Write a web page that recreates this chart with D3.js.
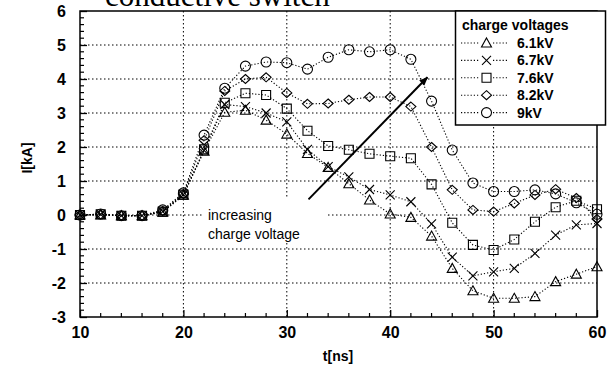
<!DOCTYPE html>
<html><head><meta charset="utf-8">
<script src="https://cdn.jsdelivr.net/npm/d3@7"></script>
<style>
html,body{margin:0;padding:0;background:#fff;}
svg{display:block;}
text{font-family:Arial,"Liberation Sans",sans-serif;}
</style></head>
<body>
<svg id="chart" width="608" height="367"></svg>
<script>
// ---- data ----
const times = [10,12,14,16,18,20,22,24,26,28,30,32,34,36,38,40,42,44,46,48,50,52,54,56,58,60];
const seriesNames = ["6.1kV","6.7kV","7.6kV","8.2kV","9kV"];
const v61 = [0,0,-0.02,-0.02,0.08,0.58,1.88,3.02,3.08,2.79,2.38,1.81,1.4,0.92,0.44,0.03,-0.07,-0.62,-1.57,-2.23,-2.45,-2.45,-2.4,-1.96,-1.74,-1.52];
const v67 = [0,0.02,-0.02,-0.02,0.1,0.6,1.9,3.25,3.19,3.0,2.74,1.93,1.42,1.12,0.75,0.59,0.39,-0.26,-1.24,-1.79,-1.67,-1.57,-1.13,-0.59,-0.29,-0.25];
const v76 = [0,0.02,-0.02,-0.02,0.1,0.6,1.93,3.3,3.58,3.53,3.13,2.48,2.03,1.92,1.8,1.73,1.67,0.9,-0.23,-0.88,-1.03,-0.72,-0.2,0.23,0.42,0.17];
const v82 = [0,0.02,-0.02,-0.02,0.12,0.62,2.2,3.65,4.0,4.05,3.59,3.27,3.28,3.39,3.47,3.47,3.19,2.0,0.74,0.15,0.1,0.34,0.59,0.76,0.5,-0.12];
const v90 = [0,0.03,-0.02,-0.02,0.15,0.65,2.35,3.73,4.38,4.5,4.48,4.29,4.64,4.86,4.8,4.86,4.58,3.35,1.91,0.94,0.69,0.69,0.74,0.62,0.36,0.02];
const seriesValues = [v61, v67, v76, v82, v90];
const markers = ["triangle","x","square","diamond","circle"];
const xTicks = [10,20,30,40,50,60];
const yTicks = [-3,-2,-1,0,1,2,3,4,5,6];
const xMinor = [12,14,16,18,22,24,26,28,32,34,36,38,42,44,46,48,52,54,56,58];
const yMinor = [-2.8,-2.6,-2.4,-2.2,-1.8,-1.6,-1.4,-1.2,-0.8,-0.6,-0.4,-0.2,0.2,0.4,0.6,0.8,1.2,1.4,1.6,1.8,2.2,2.4,2.6,2.8,3.2,3.4,3.6,3.8,4.2,4.4,4.6,4.8,5.2,5.4,5.6,5.8];
const titleText = "conductive switch";
const legendTitle = "charge voltages";
const annoLines = ["increasing","charge voltage"];
const arrowFrom = [32.1, 0.46], arrowTo = [43.6, 4.05];

// ---- layout ----
const svg = d3.select("#chart");
const x = d3.scaleLinear().domain([10,60]).range([80,597]);
const y = d3.scaleLinear().domain([-3,6]).range([317,11]);

// title (partly cut off at top, as in the reference)
svg.append("text").attr("x",105).attr("y",5.5)
  .style("font-family","'Liberation Serif','Times New Roman',serif")
  .style("font-size","31px").text(titleText);

// grid
const grid = svg.append("g");
grid.selectAll(".gx").data(xTicks.filter(t=>t>10&&t<60)).join("line")
  .attr("x1",d=>x(d)).attr("x2",d=>x(d)).attr("y1",y(6)).attr("y2",y(-3))
  .attr("stroke","#000").attr("stroke-width",1).attr("stroke-dasharray","1.5,2.5");
grid.selectAll(".gy").data(yTicks.filter(t=>t>-3&&t<6)).join("line")
  .attr("x1",x(10)).attr("x2",x(60)).attr("y1",d=>y(d)).attr("y2",d=>y(d))
  .attr("stroke","#000").attr("stroke-width",1).attr("stroke-dasharray","1.5,2.5");

// axes (inward ticks)
const fmt = d => String(d);
const xAxis = svg.append("g").attr("transform",`translate(0,${y(-3)})`)
  .call(d3.axisBottom(x).tickValues(xTicks).tickSizeInner(-7).tickSizeOuter(0).tickPadding(10).tickFormat(fmt));
const yAxis = svg.append("g").attr("transform",`translate(${x(10)},0)`)
  .call(d3.axisLeft(y).tickValues(yTicks).tickSizeInner(-7).tickSizeOuter(0).tickPadding(14).tickFormat(fmt));
[xAxis,yAxis].forEach(a=>{
  a.select(".domain").remove();
  a.selectAll("line").attr("stroke","#000").attr("stroke-width",1.3);
  a.selectAll("text").style("font-size","16px").style("font-weight","bold").attr("fill","#000")
   .style("font-family","Arial,'Liberation Sans',sans-serif");
});
svg.append("g").selectAll("line").data(xMinor).join("line")
  .attr("x1",d=>x(d)).attr("x2",d=>x(d)).attr("y1",y(-3)).attr("y2",y(-3)-4)
  .attr("stroke","#000").attr("stroke-width",1.2);
svg.append("g").selectAll("line").data(yMinor).join("line")
  .attr("x1",x(10)).attr("x2",x(10)+4).attr("y1",d=>y(d)).attr("y2",d=>y(d))
  .attr("stroke","#000").attr("stroke-width",1.2);

// frame
svg.append("rect").attr("x",x(10)).attr("y",y(6)).attr("width",x(60)-x(10)).attr("height",y(-3)-y(6))
  .attr("fill","none").attr("stroke","#000").attr("stroke-width",1.5);

// axis titles
svg.append("text").attr("x",338).attr("y",361).attr("text-anchor","middle")
  .style("font-size","14px").style("font-weight","bold").text("t[ns]");
svg.append("text").attr("transform","translate(32,158) rotate(-90)").attr("text-anchor","middle")
  .style("font-size","14px").style("font-weight","bold").text("I[kA]");

// annotation text with white background
svg.append("rect").attr("x",204).attr("y",199).attr("width",122).attr("height",44).attr("fill","#fff");
svg.append("text").attr("x",208).attr("y",220).style("font-size","14px").text(annoLines[0]);
svg.append("text").attr("x",208).attr("y",239).style("font-size","14px").text(annoLines[1]);

// marker shapes
function markerPath(type){
  switch(type){
    case "triangle": return "M0,-5L5,4L-5,4Z";
    case "x": return "M-4.5,-4.5L4.5,4.5M-4.5,4.5L4.5,-4.5";
    case "square": return "M-4.5,-4.5H4.5V4.5H-4.5Z";
    case "diamond": return "M0,-4.5L5,0L0,4.5L-5,0Z";
    case "circle": return "M5,0A5,5 0 1,1 -5,0A5,5 0 1,1 5,0Z";
  }
}

// series
const line = d3.line().x(d=>x(d[0])).y(d=>y(d[1]));
seriesValues.forEach((vals,i)=>{
  const pts = times.map((t,j)=>[t,vals[j]]);
  svg.append("path").attr("d",line(pts)).attr("fill","none")
    .attr("stroke","#000").attr("stroke-width",1.1).attr("stroke-dasharray","1.2,2");
  svg.append("g").selectAll("path").data(pts).join("path")
    .attr("transform",d=>`translate(${x(d[0])},${y(d[1])})`)
    .attr("d",markerPath(markers[i])).attr("fill","none").attr("stroke","#000").attr("stroke-width",1.1);
});

// arrow
svg.append("defs").append("marker").attr("id","ah").attr("viewBox","0 0 10 10")
  .attr("refX",9).attr("refY",5).attr("markerWidth",9).attr("markerHeight",9).attr("orient","auto")
  .attr("markerUnits","userSpaceOnUse")
  .append("path").attr("d","M0,1L10,5L0,9Z").attr("fill","#000");
svg.append("line").attr("x1",x(arrowFrom[0])).attr("y1",y(arrowFrom[1]))
  .attr("x2",x(arrowTo[0])).attr("y2",y(arrowTo[1]))
  .attr("stroke","#000").attr("stroke-width",2).attr("marker-end","url(#ah)");

// legend
const lg = svg.append("g");
lg.append("rect").attr("x",455.5).attr("y",11).attr("width",150).attr("height",114)
  .attr("fill","#fff").attr("stroke","#000").attr("stroke-width",1.5);
lg.append("text").attr("x",462).attr("y",30).style("font-size","14px").style("font-weight","bold").text(legendTitle);
seriesNames.forEach((n,i)=>{
  const cy = 43 + i*17.4;
  lg.append("line").attr("x1",461).attr("x2",508).attr("y1",cy).attr("y2",cy)
    .attr("stroke","#000").attr("stroke-width",1.1).attr("stroke-dasharray","1.2,2");
  lg.append("rect").attr("x",480).attr("y",cy-6).attr("width",13).attr("height",12).attr("fill","#fff");
  lg.append("path").attr("transform",`translate(486.5,${cy})`).attr("d",markerPath(markers[i]))
    .attr("fill","none").attr("stroke","#000").attr("stroke-width",1.1);
  lg.append("text").attr("x",517).attr("y",cy+5).style("font-size","14px").style("font-weight","bold").text(n);
});
</script>
</body></html>
